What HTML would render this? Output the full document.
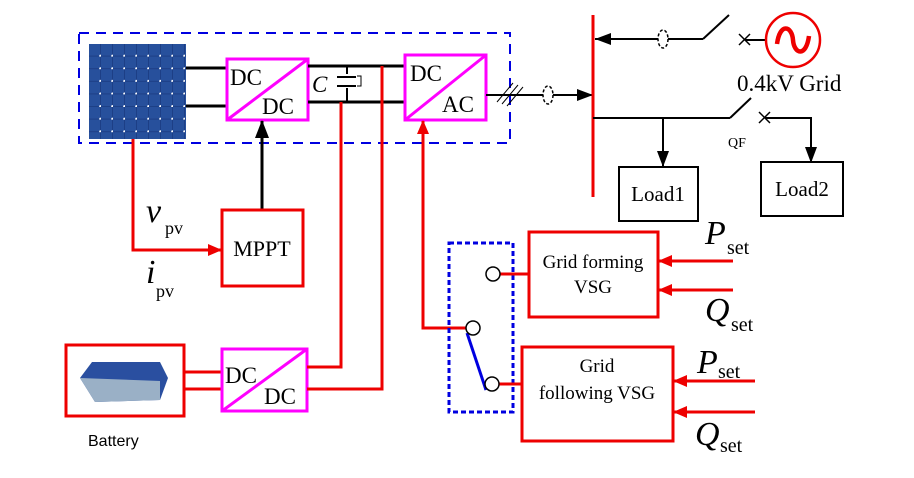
<!DOCTYPE html>
<html><head><meta charset="utf-8"><style>html,body{margin:0;padding:0;background:#fff}svg{display:block}</style></head><body>
<svg width="914" height="478" viewBox="0 0 914 478" xmlns="http://www.w3.org/2000/svg" font-family="Liberation Serif, serif">
<defs>
<marker id="ar" markerWidth="14" markerHeight="12" refX="13" refY="6" orient="auto" markerUnits="userSpaceOnUse"><path d="M0,0 L14,6 L0,12 z" fill="#e00"/></marker>
<marker id="ab2" markerWidth="16" markerHeight="12" refX="15" refY="6" orient="auto" markerUnits="userSpaceOnUse"><path d="M0,0 L16,6 L0,12 z" fill="#000"/></marker>
<marker id="ab3" markerWidth="18" markerHeight="14" refX="17" refY="7" orient="auto" markerUnits="userSpaceOnUse"><path d="M0,0 L18,7 L0,14 z" fill="#000"/></marker>
<pattern id="cell" width="12" height="12.6" patternUnits="userSpaceOnUse" x="89" y="44"><rect width="12" height="12.6" fill="#1d3f86"/><rect x="0" y="0" width="11" height="11.6" fill="#27509c"/><circle cx="11.5" cy="12" r="1.3" fill="#fff"/></pattern>
</defs>
<rect x="79" y="33" width="431" height="110" fill="none" stroke="#0000e0" stroke-width="2" stroke-dasharray="10,7"/>
<rect x="89" y="44" width="97" height="95" fill="url(#cell)"/>
<line x1="186" y1="68" x2="227" y2="68" stroke="#000" stroke-width="3"/>
<line x1="186" y1="106" x2="227" y2="106" stroke="#000" stroke-width="3"/>
<rect x="227" y="59" width="81" height="61" fill="#fff" stroke="#f0f" stroke-width="3"/>
<line x1="227" y1="120" x2="308" y2="59" stroke="#f0f" stroke-width="3"/>
<text x="230" y="85" font-size="23">DC</text><text x="262" y="114" font-size="23">DC</text>
<line x1="308" y1="66" x2="405" y2="66" stroke="#000" stroke-width="3"/>
<line x1="308" y1="102" x2="405" y2="102" stroke="#000" stroke-width="3"/>
<line x1="347" y1="66" x2="347" y2="102" stroke="#000" stroke-width="2"/>
<rect x="334" y="74" width="22" height="14" fill="#fff"/>
<line x1="337" y1="77" x2="356" y2="77" stroke="#000" stroke-width="2"/>
<line x1="337" y1="86" x2="356" y2="86" stroke="#000" stroke-width="2"/>
<path d="M357,76 h4 v10 h-4" fill="none" stroke="#000" stroke-width="1"/>
<text x="312" y="92" font-size="23" font-style="italic">C</text>
<rect x="405" y="55" width="81" height="65" fill="#fff" stroke="#f0f" stroke-width="3"/>
<line x1="405" y1="120" x2="486" y2="55" stroke="#f0f" stroke-width="3"/>
<text x="410" y="81" font-size="23">DC</text><text x="442" y="112" font-size="23">AC</text>
<line x1="486" y1="95" x2="592" y2="95" stroke="#000" stroke-width="2" marker-end="url(#ab2)"/>
<line x1="497" y1="102" x2="513" y2="83" stroke="#000" stroke-width="1"/>
<line x1="502" y1="104" x2="518" y2="85" stroke="#000" stroke-width="1"/>
<line x1="507" y1="106" x2="523" y2="87" stroke="#000" stroke-width="1"/>
<ellipse cx="548" cy="95" rx="5" ry="9" fill="#fff" stroke="#000" stroke-width="1.5" stroke-dasharray="3,2"/>
<line x1="593" y1="15" x2="593" y2="197" stroke="#e00" stroke-width="3"/>
<line x1="595" y1="39" x2="703" y2="39" stroke="#000" stroke-width="2"/>
<path d="M611,33 L595,39 L611,45 z" fill="#000"/>
<ellipse cx="663" cy="39" rx="5" ry="9" fill="#fff" stroke="#000" stroke-width="1.5" stroke-dasharray="3,2"/>
<line x1="703" y1="39" x2="729" y2="15" stroke="#000" stroke-width="2"/>
<path d="M739,34 l11,11 M739,45 l11,-11" stroke="#000" stroke-width="1.5"/>
<line x1="745" y1="40" x2="766" y2="40" stroke="#000" stroke-width="2"/>
<circle cx="793" cy="40" r="27" fill="#fff" stroke="#e00" stroke-width="2.5"/>
<path d="M777,44 C780,22 792,26 793,40 C794,54 806,58 809,36" fill="none" stroke="#e00" stroke-width="4.5"/>
<text x="737" y="91" font-size="23">0.4kV Grid</text>
<line x1="593" y1="118" x2="730" y2="118" stroke="#000" stroke-width="2"/>
<line x1="730" y1="118" x2="751" y2="98" stroke="#000" stroke-width="2"/>
<path d="M759,112 l11,11 M759,123 l11,-11" stroke="#000" stroke-width="1.5"/>
<polyline points="765,118 811,118 811,162" fill="none" stroke="#000" stroke-width="2" marker-end="url(#ab2)"/>
<line x1="663" y1="118" x2="663" y2="166" stroke="#000" stroke-width="2" marker-end="url(#ab2)"/>
<text x="728" y="147" font-size="14">QF</text>
<rect x="619" y="167" width="79" height="54" fill="#fff" stroke="#000" stroke-width="2"/>
<text x="658" y="201" font-size="21" text-anchor="middle">Load1</text>
<rect x="761" y="162" width="82" height="54" fill="#fff" stroke="#000" stroke-width="2"/>
<text x="802" y="196" font-size="21" text-anchor="middle">Load2</text>
<polyline points="133,139 133,250 221,250" fill="none" stroke="#e00" stroke-width="3" marker-end="url(#ar)"/>
<line x1="262" y1="210" x2="262" y2="121" stroke="#000" stroke-width="3" marker-end="url(#ab3)"/>
<rect x="222" y="210" width="81" height="76" fill="#fff" stroke="#e00" stroke-width="3"/>
<text x="262" y="256" font-size="22" text-anchor="middle">MPPT</text>
<text x="146" y="222" font-size="34" font-style="italic">v</text><text x="165" y="234" font-size="18">pv</text>
<text x="146" y="283" font-size="34" font-style="italic">i</text><text x="156" y="297" font-size="18">pv</text>
<rect x="66" y="345" width="118" height="71" fill="#fff" stroke="#e00" stroke-width="3"/>
<path d="M80,378 L92,362 L160,362 L168,378 L160,400 L95,402 z" fill="#2a4fa0"/>
<path d="M80,378 L160,381 L160,400 L95,402 z" fill="#9ab0c6"/>
<text x="88" y="446" font-family="Liberation Sans, sans-serif" font-size="16">Battery</text>
<line x1="184" y1="372" x2="222" y2="372" stroke="#e00" stroke-width="3"/>
<line x1="184" y1="389" x2="222" y2="389" stroke="#e00" stroke-width="3"/>
<rect x="222" y="349" width="85" height="62" fill="#fff" stroke="#f0f" stroke-width="3"/>
<line x1="222" y1="411" x2="307" y2="349" stroke="#f0f" stroke-width="3"/>
<text x="225" y="383" font-size="23">DC</text><text x="264" y="404" font-size="23">DC</text>
<polyline points="307,367 341,367 341,102" fill="none" stroke="#e00" stroke-width="3"/>
<polyline points="307,389 382,389 382,66" fill="none" stroke="#e00" stroke-width="3"/>
<polyline points="466,328 423,328 423,121" fill="none" stroke="#e00" stroke-width="3" marker-end="url(#ar)"/>
<rect x="449" y="243" width="64" height="169" fill="none" stroke="#0000e0" stroke-width="3" stroke-dasharray="5,3"/>
<line x1="467" y1="333" x2="486" y2="390" stroke="#0000e0" stroke-width="3"/>
<line x1="500" y1="274" x2="529" y2="274" stroke="#e00" stroke-width="3"/>
<line x1="499" y1="384" x2="522" y2="384" stroke="#e00" stroke-width="3"/>
<circle cx="493" cy="274" r="7" fill="#fff" stroke="#000" stroke-width="1.5"/>
<circle cx="473" cy="328" r="7" fill="#fff" stroke="#000" stroke-width="1.5"/>
<circle cx="492" cy="384" r="7" fill="#fff" stroke="#000" stroke-width="1.5"/>
<rect x="529" y="232" width="129" height="85" fill="#fff" stroke="#e00" stroke-width="3"/>
<text x="593" y="268" font-size="19" text-anchor="middle">Grid forming</text>
<text x="593" y="293" font-size="19" text-anchor="middle">VSG</text>
<rect x="522" y="347" width="151" height="94" fill="#fff" stroke="#e00" stroke-width="3"/>
<text x="597" y="372" font-size="19" text-anchor="middle">Grid</text>
<text x="597" y="399" font-size="19" text-anchor="middle">following VSG</text>
<line x1="733" y1="261" x2="659" y2="261" stroke="#e00" stroke-width="3" marker-end="url(#ar)"/>
<line x1="733" y1="290" x2="659" y2="290" stroke="#e00" stroke-width="3" marker-end="url(#ar)"/>
<line x1="755" y1="381" x2="674" y2="381" stroke="#e00" stroke-width="3" marker-end="url(#ar)"/>
<line x1="755" y1="412" x2="674" y2="412" stroke="#e00" stroke-width="3" marker-end="url(#ar)"/>
<text x="705" y="244" font-size="34" font-style="italic">P</text><text x="727" y="254" font-size="20">set</text>
<text x="705" y="321" font-size="34" font-style="italic">Q</text><text x="731" y="331" font-size="20">set</text>
<text x="697" y="373" font-size="34" font-style="italic">P</text><text x="718" y="378" font-size="20">set</text>
<text x="695" y="445" font-size="34" font-style="italic">Q</text><text x="720" y="452" font-size="20">set</text>
</svg>
</body></html>
